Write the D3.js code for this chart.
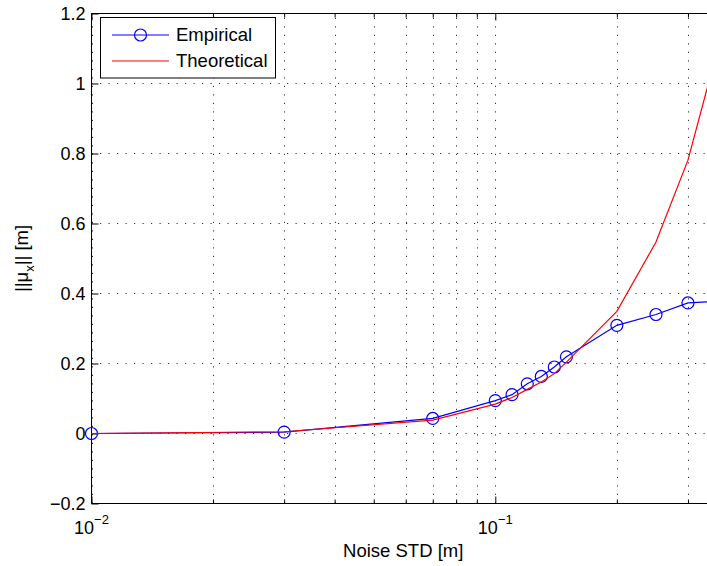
<!DOCTYPE html>
<html><head><meta charset="utf-8">
<script src="https://cdn.jsdelivr.net/npm/d3@7"></script>
<style>
body{margin:0;background:#fff}
text{font-family:"Liberation Sans",Arial,Helvetica,sans-serif;fill:#000}
</style></head>
<body><svg id="chart" width="707" height="566"></svg>
<script>
// ---- data ----
const noiseStd    = [0.01, 0.03, 0.07, 0.1, 0.11, 0.12, 0.13, 0.14, 0.15, 0.2, 0.25, 0.3, 0.35];
const empirical   = [0, 0.004, 0.043, 0.094, 0.111, 0.142, 0.163, 0.190, 0.219, 0.309, 0.340, 0.373, 0.377];
const theoretical = [0, 0.005, 0.038, 0.084, 0.103, 0.126, 0.147, 0.171, 0.204, 0.349, 0.547, 0.781, 1.07];
const yTicks = [-0.2, 0, 0.2, 0.4, 0.6, 0.8, 1, 1.2];
const yTickLabels = ["\u22120.2", "0", "0.2", "0.4", "0.6", "0.8", "1", "1.2"];
const xMajorTicks = [0.01, 0.1];
const xMajorExponents = ["\u22122", "\u22121"];
const xMinorTicks = [0.02, 0.03, 0.04, 0.05, 0.06, 0.07, 0.08, 0.09, 0.2, 0.3];
const seriesNames = ["Empirical", "Theoretical"];
const xLabel = "Noise STD [m]";

// ---- layout ----
const pL = 91.5, pT = 13.5, pB = 503.5;
const decade = 403.8;
const pR = pL + decade * Math.log10(0.35 / 0.01);
const svg = d3.select("#chart");

const x = d3.scaleLog().domain([0.01, 0.35]).range([pL, pR]);
const y = d3.scaleLinear().domain([-0.2, 1.2]).range([pB, pT]);

// grid
const grid = svg.append("g").attr("stroke", "#333").attr("stroke-width", 1).attr("stroke-dasharray", "1.2,7.3");
grid.selectAll("line.v").data(xMinorTicks.concat(xMajorTicks)).join("line").attr("class", "v")
  .attr("x1", d => Math.round(x(d)) + 0.5).attr("x2", d => Math.round(x(d)) + 0.5)
  .attr("y1", pB).attr("y2", pT);
grid.selectAll("line.h").data(yTicks).join("line").attr("class", "h")
  .attr("y1", d => y(d)).attr("y2", d => y(d))
  .attr("x1", pL).attr("x2", pR);

// axes (ticks inside)
function styleAxis(g){ g.select(".domain").remove(); g.selectAll("line").attr("stroke","#000"); g.selectAll("text").remove(); }
svg.append("g").attr("transform", `translate(0,${pB})`)
  .call(d3.axisBottom(x).tickValues(xMajorTicks).tickSize(-7)).call(styleAxis);
svg.append("g").attr("transform", `translate(0,${pB})`)
  .call(d3.axisBottom(x).tickValues(xMinorTicks).tickSize(-4)).call(styleAxis);
svg.append("g").attr("transform", `translate(0,${pT})`)
  .call(d3.axisTop(x).tickValues(xMajorTicks).tickSize(-7)).call(styleAxis);
svg.append("g").attr("transform", `translate(0,${pT})`)
  .call(d3.axisTop(x).tickValues(xMinorTicks).tickSize(-4)).call(styleAxis);
svg.append("g").attr("transform", `translate(${pL},0)`)
  .call(d3.axisLeft(y).tickValues(yTicks).tickSize(-7)).call(styleAxis);
svg.append("g").attr("transform", `translate(${pR},0)`)
  .call(d3.axisRight(y).tickValues(yTicks).tickSize(-7)).call(styleAxis);

// box
svg.append("rect").attr("x", pL).attr("y", pT).attr("width", pR - pL).attr("height", pB - pT)
  .attr("fill", "none").attr("stroke", "#000").attr("stroke-width", 1);

// tick labels
svg.append("g").selectAll("text").data(yTicks).join("text")
  .attr("x", pL - 6).attr("y", d => y(d)).attr("dy", "0.36em")
  .attr("text-anchor", "end").attr("font-size", 18)
  .text((d, i) => yTickLabels[i]);
const xl = svg.append("g").selectAll("text").data(xMajorTicks).join("text")
  .attr("x", d => x(d)).attr("y", 533.5).attr("text-anchor", "middle").attr("font-size", 18);
xl.append("tspan").text("10");
xl.append("tspan").attr("dy", -10).attr("font-size", 13).text((d, i) => xMajorExponents[i]);

// axis labels
svg.append("text").attr("x", (pL + pR) / 2).attr("y", 557).attr("text-anchor", "middle")
  .attr("font-size", 18.5).text(xLabel);
const yl = svg.append("text").attr("transform", `translate(28,${(pT + pB) / 2}) rotate(-90)`)
  .attr("text-anchor", "middle").attr("font-size", 18.5);
yl.append("tspan").text("||\u03bc");
yl.append("tspan").attr("dy", 6).attr("font-size", 13).text("x");
yl.append("tspan").attr("dy", -6).text("|| [m]");

// data
const pts = noiseStd.map((v, i) => ({x: v, e: empirical[i], t: theoretical[i]}));
const plot = svg.append("g");
plot.append("path").datum(pts).attr("fill", "none").attr("stroke", "#0000ff").attr("stroke-width", 1.2)
  .attr("d", d3.line().x(d => x(d.x)).y(d => y(d.e)));
plot.selectAll("circle.m").data(pts).join("circle").attr("class", "m")
  .attr("cx", d => x(d.x)).attr("cy", d => y(d.e)).attr("r", 6)
  .attr("fill", "none").attr("stroke", "#0000ff").attr("stroke-width", 1.2);
plot.append("path").datum(pts).attr("fill", "none").attr("stroke", "#ff0000").attr("stroke-width", 1.2)
  .attr("d", d3.line().x(d => x(d.x)).y(d => y(d.t)));

// legend
const lg = svg.append("g");
lg.append("rect").attr("x", 100.5).attr("y", 17.5).attr("width", 175).attr("height", 60.5)
  .attr("fill", "#fff").attr("stroke", "#000").attr("stroke-width", 1);
const rows = [{name: seriesNames[0], color: "#0000ff", marker: true, yy: 35},
              {name: seriesNames[1], color: "#ff0000", marker: false, yy: 61}];
rows.forEach(r => {
  lg.append("line").attr("x1", 112).attr("x2", 169).attr("y1", r.yy).attr("y2", r.yy)
    .attr("stroke", r.color).attr("stroke-width", 1.2);
  if (r.marker) lg.append("circle").attr("cx", 140.5).attr("cy", r.yy).attr("r", 6)
    .attr("fill", "none").attr("stroke", r.color).attr("stroke-width", 1.2);
  lg.append("text").attr("x", 176).attr("y", r.yy + 6.3).attr("font-size", 18.5).text(r.name);
});
</script></body></html>
